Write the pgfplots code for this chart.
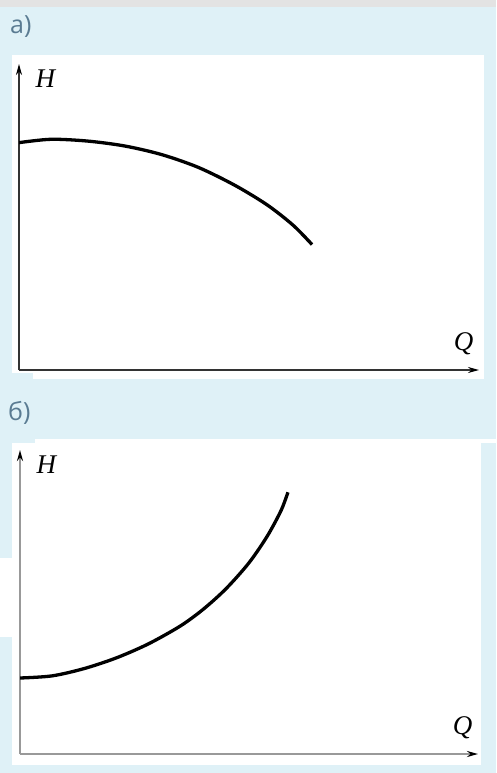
\documentclass[border=0pt]{standalone}
\usepackage{pgfplots}
\pgfplotsset{compat=1.18}
\usepackage{fontspec}
\setmainfont{Liberation Serif}
\newfontfamily\capfont{Open Sans}
\usetikzlibrary{arrows.meta}

\definecolor{pagebg}{HTML}{DFF1F7}
\definecolor{topband}{HTML}{E3E3E3}
\definecolor{captxt}{HTML}{5A7B92}
\definecolor{lbltxt}{HTML}{35302A}

% Pump head curve H(Q) (panel a) and system curve (panel b)
\pgfplotstableread{
Q H
0    74.3
7    75.4
15   74.8
23   73.2
31   70.4
39   66.2
47   60.3
54   53.9
59.6 47.3
63.7 41.0
}\pumpcurve

\pgfplotstableread{
Q H
0    25.0
7    25.7
14   28.1
21   31.6
28   36.2
35   42.1
40   47.6
45   54.4
50   62.9
54   71.7
57   80.1
58.5 86.1
}\systemcurve

\pgfplotsset{
  qhaxis/.style={
    scale only axis,
    anchor=south west,
    xmin=0, xmax=100, ymin=0, ymax=100,
    axis lines=left,
    xtick=\empty, ytick=\empty,
    axis line style={line width=#1,
      -{Stealth[length=11pt,width=6pt,color=black]}},
    xlabel={\fontsize{27}{27}\selectfont\itshape Q},
    ylabel={\fontsize{27}{27}\selectfont\itshape H},
    label style={text=lbltxt, inner sep=0pt},
    every axis x label/.style={at={(axis description cs:1,0)},
      anchor=south east, xshift=-2pt, yshift=12pt},
    every axis y label/.style={at={(axis description cs:0,1)},
      anchor=north west, xshift=13pt, yshift=-2pt},
  },
  curvestyle/.style={black, line width=3.3pt, smooth, tension=0.5},
}

\begin{document}
\begin{tikzpicture}[x=1pt,y=1pt]
\useasboundingbox (0,0) rectangle (496,-773);
% page background
\fill[pagebg] (0,0) rectangle (496,-773);
\fill[topband] (0,0) rectangle (496,-7);

% white panels
\fill[white] (12,-55) rectangle (484,-373);
\fill[white] (33,-373) rectangle (484,-379);
\fill[white] (12,-443) rectangle (481,-765);
\fill[white] (35,-439) rectangle (496,-443);
\fill[white] (0,-558) rectangle (12,-637);

% panel captions
\node[anchor=north west, inner sep=0pt, text=captxt]
  at (10,-15) {\capfont\fontsize{25}{25}\selectfont а)};
\node[anchor=north west, inner sep=0pt, text=captxt]
  at (8,-401) {\capfont\fontsize{25}{25}\selectfont б)};

% a) head curve
\begin{axis}[qhaxis=1.5pt, at={(19pt,-370pt)},
    width=460pt, height=306pt,
    axis line style={color=black!80}]
  \addplot[curvestyle] table[x=Q,y=H] {\pumpcurve};
\end{axis}

% b) system curve
\begin{axis}[qhaxis=2.2pt, at={(20pt,-754pt)},
    width=458pt, height=304pt,
    axis line style={color=black!40}]
  \addplot[curvestyle] table[x=Q,y=H] {\systemcurve};
\end{axis}
\end{tikzpicture}
\end{document}
